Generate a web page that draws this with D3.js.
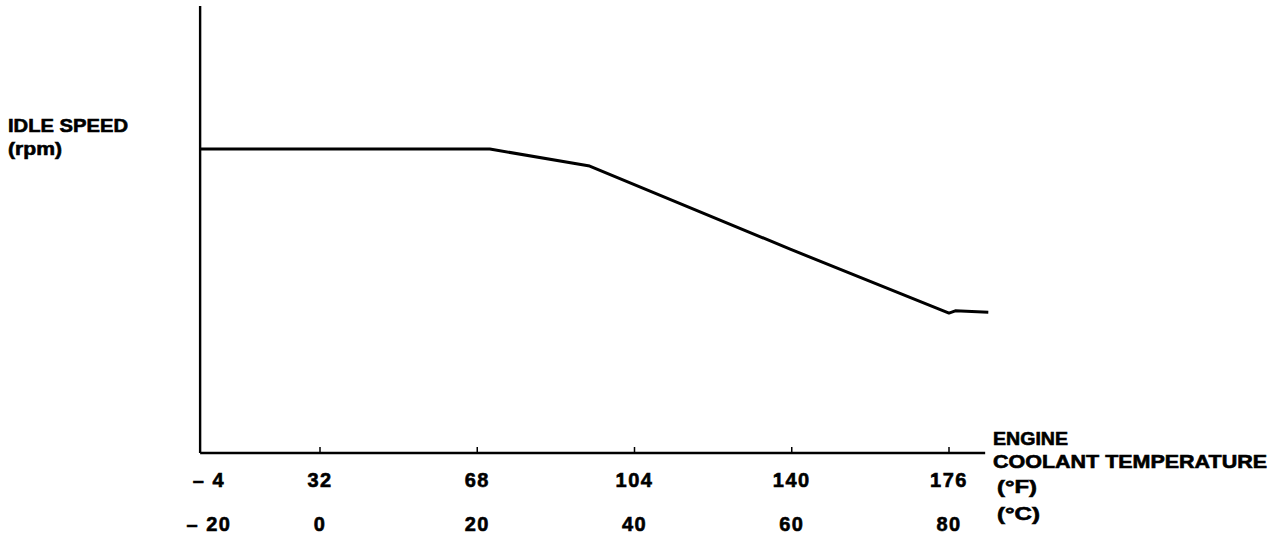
<!DOCTYPE html>
<html>
<head>
<meta charset="utf-8">
<script src="https://cdn.jsdelivr.net/npm/d3@7/dist/d3.min.js"></script>
<style>
  html, body { margin: 0; padding: 0; background: #fff; }
  svg text { font-family: "Liberation Sans", Arial, sans-serif; font-weight: bold; fill: #000; stroke: #000; stroke-width: 0.6px; }
</style>
</head>
<body>
<svg id="chart" width="1280" height="536"></svg>
<script>
// ---- data ----
const tempC = [-21.6, 21.6, 34.3, 59.8, 80.0, 80.8, 85.0];       // engine coolant temperature (°C)
const idleSpeed = [68.0, 68.0, 64.2, 45.6, 31.3, 31.8, 31.5];     // idle speed (relative, no scale given)
const tickC = [-20, 0, 20, 40, 60, 80];
const tickF = ["\u2013 4", "32", "68", "104", "140", "176"];
const tickCLabels = ["\u2013 20", "0", "20", "40", "60", "80"];
const xExtent = [-21.6, 84.6];
const yExtent = [0, 100];
const yTitle = ["IDLE SPEED", "(rpm)"];
const xTitle = ["ENGINE", "COOLANT TEMPERATURE", "(\u00B0F)", "(\u00B0C)"];

// ---- scales ----
const svg = d3.select("#chart");
const x = d3.scaleLinear().domain([-20, 0, 80]).range([209, 320, 949]);
const y = d3.scaleLinear().domain(yExtent).range([453, 6]);

// y axis line
svg.append("line")
  .attr("x1", x(xExtent[0])).attr("x2", x(xExtent[0]))
  .attr("y1", y(yExtent[0])).attr("y2", y(yExtent[1]))
  .attr("stroke", "#000").attr("stroke-width", 2.4);

// x axis line
svg.append("line")
  .attr("x1", x(xExtent[0])).attr("x2", x(xExtent[1]))
  .attr("y1", y(0)).attr("y2", y(0))
  .attr("stroke", "#000").attr("stroke-width", 2.6);

// tick marks (upward)
svg.selectAll("line.tick").data(tickC.slice(1)).enter().append("line")
  .attr("class", "tick")
  .attr("x1", d => x(d)).attr("x2", d => x(d))
  .attr("y1", y(0)).attr("y2", y(0) - 6)
  .attr("stroke", "#000").attr("stroke-width", 1.5);

// °F tick labels
svg.selectAll("text.tf").data(tickC).enter().append("text")
  .attr("class", "tf")
  .attr("x", d => x(d)).attr("y", 487)
  .attr("text-anchor", "middle")
  .attr("font-size", 20)
  .style("letter-spacing", "1.5px")
  .text((d, i) => tickF[i]);

// °C tick labels
svg.selectAll("text.tc").data(tickC).enter().append("text")
  .attr("class", "tc")
  .attr("x", d => x(d)).attr("y", 531)
  .attr("text-anchor", "middle")
  .attr("font-size", 20)
  .style("letter-spacing", "1.5px")
  .text((d, i) => tickCLabels[i]);

// curve
const line = d3.line().x(d => x(d[0])).y(d => y(d[1]));
svg.append("path")
  .datum(tempC.map((t, i) => [t, idleSpeed[i]]))
  .attr("d", line)
  .attr("fill", "none")
  .attr("stroke", "#000")
  .attr("stroke-width", 3)
  .attr("stroke-linejoin", "round");

// y title
svg.append("text").attr("x", 8).attr("y", 132).attr("font-size", 18)
  .attr("textLength", 120).attr("lengthAdjust", "spacingAndGlyphs").text(yTitle[0]);
svg.append("text").attr("x", 8).attr("y", 155).attr("font-size", 18)
  .attr("textLength", 54).attr("lengthAdjust", "spacingAndGlyphs").text(yTitle[1]);

// x title
svg.append("text").attr("x", 993).attr("y", 445).attr("font-size", 18)
  .attr("textLength", 75).attr("lengthAdjust", "spacingAndGlyphs").text(xTitle[0]);
svg.append("text").attr("x", 993).attr("y", 468).attr("font-size", 18)
  .attr("textLength", 274).attr("lengthAdjust", "spacingAndGlyphs").text(xTitle[1]);
svg.append("text").attr("x", 997).attr("y", 493).attr("font-size", 18)
  .attr("textLength", 40).attr("lengthAdjust", "spacingAndGlyphs").text(xTitle[2]);
svg.append("text").attr("x", 997).attr("y", 520).attr("font-size", 18)
  .attr("textLength", 43).attr("lengthAdjust", "spacingAndGlyphs").text(xTitle[3]);
</script>
</body>
</html>
